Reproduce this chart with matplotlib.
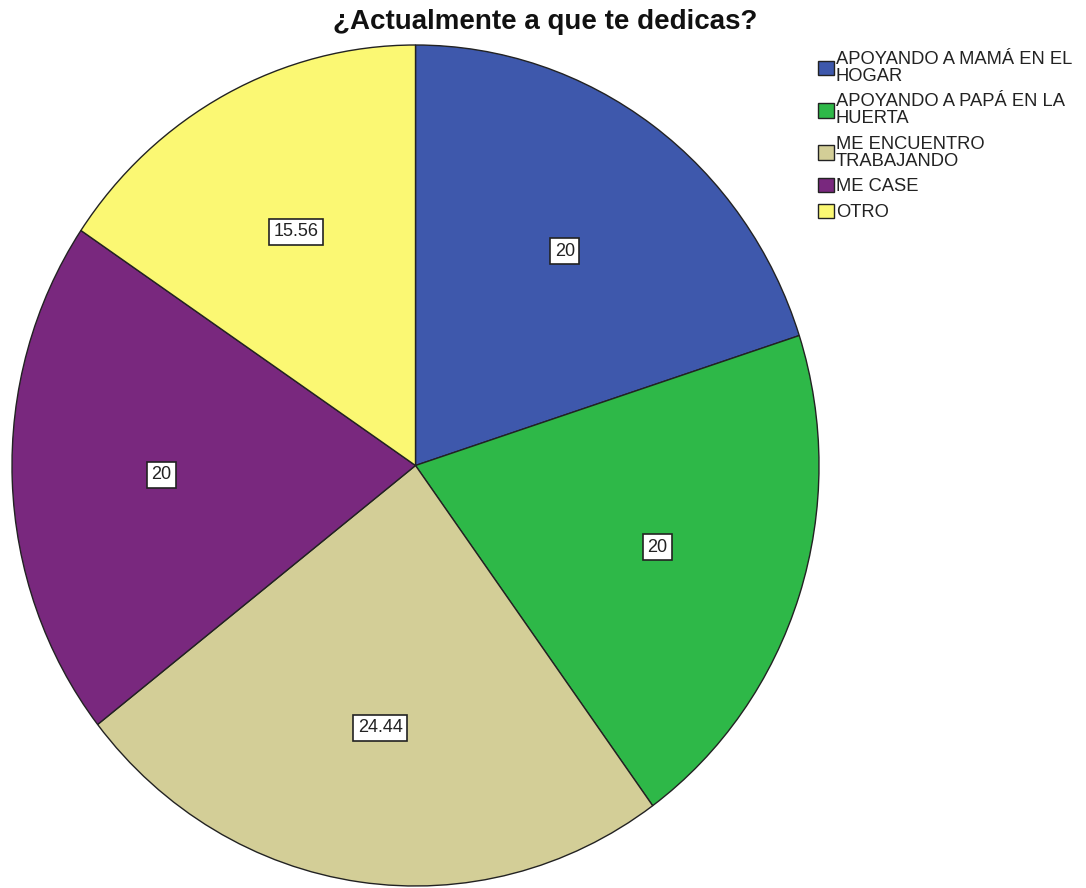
import matplotlib.pyplot as plt
import numpy as np

categories = ['APOYANDO A MAMÁ EN EL\nHOGAR', 'APOYANDO A PAPÁ EN LA\nHUERTA',
              'ME ENCUENTRO\nTRABAJANDO', 'ME CASE', 'OTRO']
values = [20, 20, 24.44, 20, 15.56]
colors = ['#3E58AC', '#2EB848', '#D3CE97', '#79287E', '#FBF873']
title = '¿Actualmente a que te dedicas?'

plt.rcParams['font.family'] = ['Liberation Sans', 'DejaVu Sans']

fig = plt.figure(figsize=(10.86, 8.88), dpi=100)
# pie is drawn a bit taller than wide in the original
ax = fig.add_axes([12 / 1086, 2 / 888, 807 / 1086, 841 / 888])

def fmt(p):
    v = p * sum(values) / 100
    return f'{v:.2f}'.rstrip('0').rstrip('.')

wedges, texts, autotexts = ax.pie(values, colors=colors, startangle=90, counterclock=False,
                                  autopct=fmt, pctdistance=0.63,
                                  wedgeprops=dict(edgecolor='#222222', linewidth=1.0))
for t in autotexts:
    t.set_fontsize(13)
    t.set_color('#222222')
    t.set_bbox(dict(boxstyle='square,pad=0.25', fc='white', ec='#222222', lw=1.2))

ax.set_aspect('auto')
ax.set_xlim(-1, 1)
ax.set_ylim(-1, 1)
ax.axis('off')

fig.text(545 / 1086, 1 - 22 / 888, title, ha='center', va='center',
         fontsize=20, fontweight='bold', color='#111111')

leg = fig.legend(wedges, categories, loc='upper left', bbox_to_anchor=(818 / 1086, 1 - 51 / 888),
                 frameon=False, fontsize=13.2, handlelength=0.85, handleheight=0.85,
                 handletextpad=0.12, labelspacing=0.45, borderpad=0, borderaxespad=0)
for t in leg.get_texts():
    t.set_linespacing(1.0)
    t.set_color('#222222')

fig.savefig('out.png', dpi=100)
